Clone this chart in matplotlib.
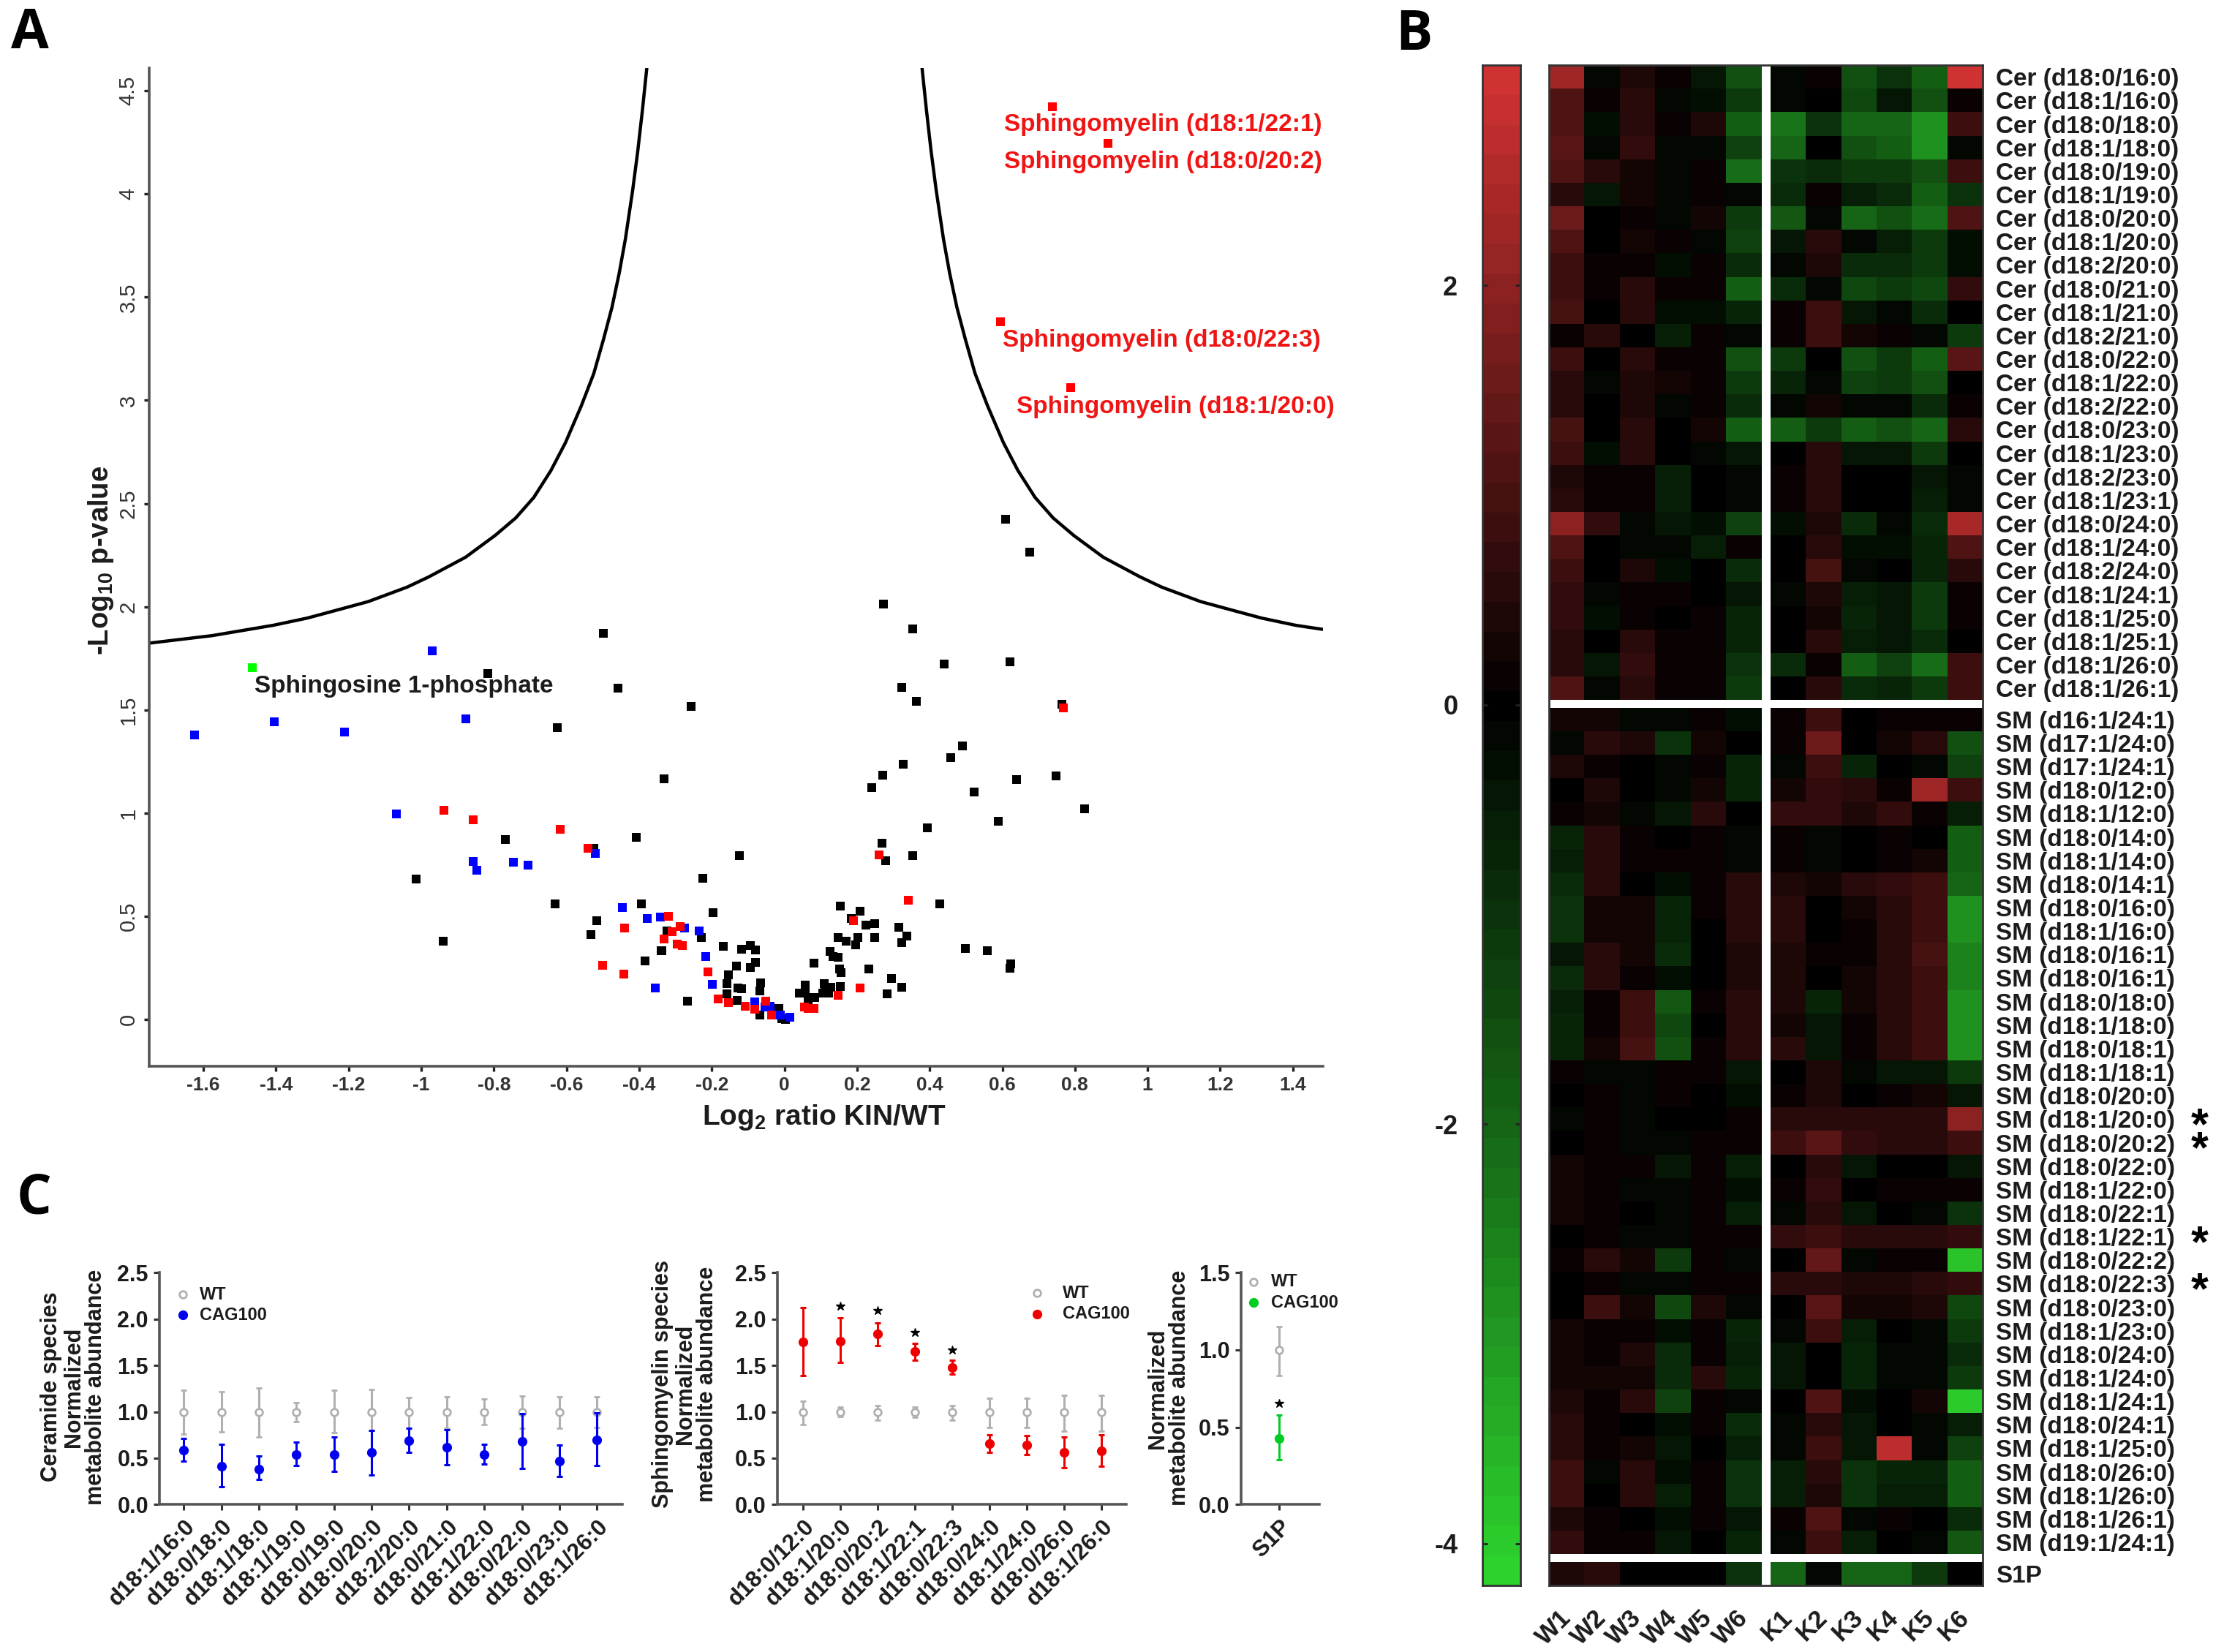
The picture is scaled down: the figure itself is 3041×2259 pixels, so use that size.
import numpy as np
import matplotlib
matplotlib.use("Agg")
import matplotlib.pyplot as plt
from matplotlib.colors import LinearSegmentedColormap, Normalize
from matplotlib.lines import Line2D
from matplotlib.transforms import ScaledTranslation

plt.rcParams['font.family'] = ['Liberation Sans', 'DejaVu Sans']
plt.rcParams['mathtext.fontset'] = 'custom'
plt.rcParams['mathtext.bf'] = 'Liberation Sans:bold'
plt.rcParams['mathtext.rm'] = 'Liberation Sans'

# ---- panel A, volcano
curve_left_x = [-1.747, -1.576, -1.408, -1.314, -1.240, -1.146, -1.039, -0.979, -0.878, -0.797, -0.740, -0.690, -0.643, -0.603, -0.559, -0.525, -0.498, -0.475, -0.455, -0.438, -0.418, -0.404, -0.391, -0.379]
curve_left_y = [1.824, 1.860, 1.910, 1.945, 1.980, 2.025, 2.095, 2.145, 2.240, 2.345, 2.430, 2.530, 2.660, 2.795, 2.975, 3.130, 3.297, 3.450, 3.616, 3.781, 4.017, 4.206, 4.407, 4.61]
curve_right_x = [0.379, 0.391, 0.404, 0.418, 0.438, 0.455, 0.475, 0.498, 0.525, 0.559, 0.603, 0.643, 0.690, 0.740, 0.797, 0.878, 0.979, 1.039, 1.146, 1.240, 1.314, 1.408, 1.484]
curve_right_y = [4.61, 4.407, 4.206, 4.017, 3.781, 3.616, 3.450, 3.297, 3.130, 2.975, 2.795, 2.660, 2.530, 2.430, 2.345, 2.240, 2.145, 2.095, 2.025, 1.980, 1.945, 1.910, 1.89]

black_x = [0.610, 0.675, 0.272, 0.354, 0.440, 0.621, 0.324, 0.364, 0.765, -0.256, 0.490, 0.458, 0.327, 0.270, 0.241, 0.640, 0.747, -0.332, 0.523, 0.827, 0.589, 0.394, 0.268, 0.279, 0.353, -0.125, -0.224, 0.428, -0.197, 0.154, 0.209, 0.185, 0.224, 0.249, 0.314, 0.337, 0.324, 0.249, 0.202, 0.196, 0.147, 0.169, 0.125, 0.134, 0.147, 0.082, 0.151, 0.155, 0.232, 0.295, 0.324, 0.283, 0.498, 0.558, 0.624, 0.621, 0.154, 0.057, 0.057, 0.042, 0.109, 0.112, 0.128, 0.105, 0.121, 0.083, 0.066, 0.066,
           -0.168, -0.119, -0.093, -0.080, -0.229, -0.337, -0.080, -0.094, -0.132, -0.155, -0.159, -0.129, -0.119, -0.159, -0.065, -0.067, -0.130, -0.267, -0.067, -0.016, -0.007, 0.002,
           -0.499, -0.816, -0.458, -0.625, -0.769, -0.524, -0.408, -1.015, -0.939, -0.631, -0.393, -0.517, -0.533, -0.324, -0.339, -0.384]
black_y = [2.423, 2.264, 2.014, 1.892, 1.724, 1.733, 1.610, 1.541, 1.527, 1.518, 1.326, 1.268, 1.237, 1.185, 1.125, 1.162, 1.181, 1.167, 1.104, 1.021, 0.961, 0.930, 0.856, 0.768, 0.793, 0.793, 0.683, 0.560, 0.516, 0.551, 0.525, 0.489, 0.459, 0.464, 0.448, 0.406, 0.372, 0.397, 0.399, 0.363, 0.399, 0.381, 0.330, 0.305, 0.303, 0.272, 0.245, 0.227, 0.245, 0.200, 0.155, 0.123, 0.345, 0.334, 0.269, 0.249, 0.160, 0.168, 0.146, 0.128, 0.173, 0.146, 0.155, 0.128, 0.128, 0.105, 0.105, 0.083,
           0.354, 0.341, 0.359, 0.336, 0.399, 0.332, 0.278, 0.251, 0.258, 0.218, 0.175, 0.152, 0.150, 0.124, 0.179, 0.137, 0.092, 0.089, 0.023, 0.052, 0.005, 0.002,
           1.872, 1.676, 1.605, 1.415, 0.871, 0.830, 0.883, 0.681, 0.381, 0.560, 0.560, 0.480, 0.410, 0.429, 0.334, 0.285]
blue_x = [-0.970, -1.625, -1.405, -1.211, -0.877, -1.069, -0.858, -0.848, -0.746, -0.707, -0.520, -0.446, -0.378, -0.342, -0.275, -0.235, -0.216, -0.198, -0.356, -0.081, -0.054, -0.039, -0.011, 0.015]
blue_y = [1.787, 1.380, 1.444, 1.394, 1.455, 0.996, 0.766, 0.724, 0.763, 0.748, 0.805, 0.541, 0.488, 0.497, 0.443, 0.429, 0.306, 0.172, 0.152, 0.087, 0.059, 0.065, 0.020, 0.012]
red_x = [0.768, 0.260, 0.342, 0.190, 0.209, 0.147, 0.056, 0.066, 0.082, -0.183, -0.155, -0.108, -0.081, -0.052, -0.035, -0.211, -0.320, -0.288, -0.310, -0.331, -0.295, -0.282, -0.441, -0.500, -0.443, -0.938, -0.857, -0.617, -0.540, 0.737, 0.891, 0.594, 0.789]
red_y = [1.510, 0.797, 0.578, 0.479, 0.151, 0.117, 0.061, 0.052, 0.052, 0.101, 0.083, 0.065, 0.050, 0.088, 0.023, 0.232, 0.500, 0.450, 0.426, 0.389, 0.367, 0.358, 0.443, 0.261, 0.221, 1.014, 0.968, 0.922, 0.830, 4.424, 4.245, 3.38, 3.063]
green_x = [-1.465]
green_y = [1.703]

a_xticks = [-1.6, -1.4, -1.2, -1, -0.8, -0.6, -0.4, -0.2, 0, 0.2, 0.4, 0.6, 0.8, 1, 1.2, 1.4]
a_yticks = [0, 0.5, 1, 1.5, 2, 2.5, 3, 3.5, 4, 4.5]

# ---- panel B, heat map
samples = ['W1', 'W2', 'W3', 'W4', 'W5', 'W6', 'K1', 'K2', 'K3', 'K4', 'K5', 'K6']
cer_labels = ['d18:0/16:0', 'd18:1/16:0', 'd18:0/18:0', 'd18:1/18:0', 'd18:0/19:0', 'd18:1/19:0', 'd18:0/20:0', 'd18:1/20:0', 'd18:2/20:0', 'd18:0/21:0', 'd18:1/21:0', 'd18:2/21:0', 'd18:0/22:0', 'd18:1/22:0', 'd18:2/22:0', 'd18:0/23:0', 'd18:1/23:0', 'd18:2/23:0', 'd18:1/23:1', 'd18:0/24:0', 'd18:1/24:0', 'd18:2/24:0', 'd18:1/24:1', 'd18:1/25:0', 'd18:1/25:1', 'd18:1/26:0', 'd18:1/26:1']
sm_labels = ['d16:1/24:1', 'd17:1/24:0', 'd17:1/24:1', 'd18:0/12:0', 'd18:1/12:0', 'd18:0/14:0', 'd18:1/14:0', 'd18:0/14:1', 'd18:0/16:0', 'd18:1/16:0', 'd18:0/16:1', 'd18:0/16:1', 'd18:0/18:0', 'd18:1/18:0', 'd18:0/18:1', 'd18:1/18:1', 'd18:0/20:0', 'd18:1/20:0', 'd18:0/20:2', 'd18:0/22:0', 'd18:1/22:0', 'd18:0/22:1', 'd18:1/22:1', 'd18:0/22:2', 'd18:0/22:3', 'd18:0/23:0', 'd18:1/23:0', 'd18:0/24:0', 'd18:1/24:0', 'd18:1/24:1', 'd18:0/24:1', 'd18:1/25:0', 'd18:0/26:0', 'd18:1/26:0', 'd18:1/26:1', 'd19:1/24:1']
sm_starred = ['d18:1/20:0', 'd18:0/20:2', 'd18:1/22:1', 'd18:0/22:3']

cer_values = [
    [2.2, -0.2, 0.4, 0.2, -0.4, -1.5, -0.2, 0.2, -1.6, -1.0, -1.9, 3.0],
    [1.2, 0.2, 0.5, -0.1, -0.3, -1.2, -0.2, 0.0, -1.4, -0.4, -1.5, 0.2],
    [1.1, -0.3, 0.6, 0.1, 0.4, -1.8, -2.3, -1.0, -2.0, -2.0, -2.8, 0.8],
    [1.3, -0.1, 0.7, -0.1, -0.1, -1.3, -2.0, 0.0, -1.6, -1.8, -2.8, -0.1],
    [1.2, 0.6, 0.3, -0.1, 0.2, -2.2, -1.0, -0.8, -1.1, -1.1, -1.5, 0.8],
    [0.6, -0.4, 0.3, -0.1, 0.1, -0.1, -0.8, 0.2, -0.6, -0.9, -1.9, -1.0],
    [1.6, 0.0, 0.2, -0.2, 0.3, -1.2, -1.7, -0.2, -2.0, -1.5, -2.1, 1.1],
    [1.2, 0.0, 0.3, 0.1, -0.1, -1.3, -0.4, 0.5, -0.2, -0.6, -1.2, -0.3],
    [0.9, 0.1, 0.2, -0.3, 0.1, -0.9, -0.1, 0.4, -0.8, -0.8, -1.1, -0.3],
    [0.9, 0.1, 0.5, 0.1, 0.2, -1.8, -0.8, -0.1, -1.4, -1.2, -1.4, 0.7],
    [1.0, 0.0, 0.5, -0.3, -0.3, -0.7, 0.2, 0.8, -0.4, -0.1, -0.8, 0.0],
    [0.1, 0.5, 0.0, -0.6, 0.1, -0.2, 0.2, 0.8, 0.3, 0.2, -0.1, -1.1],
    [0.9, 0.0, 0.5, 0.2, 0.1, -1.5, -1.2, 0.0, -1.6, -1.2, -1.9, 1.3],
    [0.5, -0.2, 0.4, 0.3, 0.1, -1.2, -0.7, -0.1, -1.3, -1.1, -1.5, 0.0],
    [0.5, 0.0, 0.4, -0.2, 0.1, -0.8, -0.2, 0.3, -0.2, -0.1, -0.9, 0.1],
    [1.0, 0.0, 0.5, 0.0, 0.3, -1.9, -1.8, -1.2, -1.8, -1.5, -2.0, 0.6],
    [0.8, -0.3, 0.6, 0.0, -0.1, -0.4, 0.0, 0.6, -0.4, -0.5, -1.1, 0.0],
    [0.4, 0.1, 0.2, -0.6, 0.0, -0.2, 0.2, 0.6, 0.0, 0.0, -0.5, -0.2],
    [0.5, 0.1, 0.2, -0.6, 0.0, -0.2, 0.2, 0.6, 0.0, 0.0, -0.6, -0.2],
    [2.0, 0.7, -0.1, -0.5, -0.3, -1.3, -0.3, 0.4, -0.8, -0.2, -0.9, 2.4],
    [1.2, 0.0, -0.1, -0.2, -0.6, 0.1, 0.0, 0.5, -0.3, -0.3, -0.7, 1.2],
    [0.9, 0.0, 0.4, -0.3, 0.0, -0.9, 0.0, 1.0, -0.2, 0.0, -0.7, 0.5],
    [0.7, -0.2, 0.2, 0.1, 0.0, -0.5, -0.1, 0.4, -0.6, -0.4, -1.1, 0.2],
    [0.7, -0.3, 0.2, 0.0, 0.1, -0.7, 0.0, 0.3, -0.7, -0.5, -1.2, 0.1],
    [0.5, 0.0, 0.5, 0.1, 0.1, -0.7, 0.0, 0.6, -0.6, -0.4, -0.9, 0.0],
    [0.5, -0.5, 0.7, 0.2, 0.2, -1.0, -0.9, 0.2, -1.9, -1.3, -2.1, 0.9],
    [1.1, -0.2, 0.6, 0.1, 0.1, -1.2, 0.0, 0.6, -0.9, -0.7, -1.2, 0.8],
]
sm_values = [
    [0.3, 0.3, -0.1, -0.1, 0.2, -0.3, 0.2, 0.8, 0.0, 0.2, 0.1, 0.1],
    [-0.1, 0.6, 0.4, -1.0, 0.3, 0.0, 0.1, 1.6, 0.0, 0.3, 0.5, -1.5],
    [0.4, 0.2, 0.0, -0.2, 0.2, -0.7, -0.2, 0.8, -0.7, 0.0, -0.1, -1.3],
    [0.0, 0.4, 0.0, -0.1, 0.3, -0.7, 0.3, 0.7, 0.6, 0.2, 2.2, 0.9],
    [0.1, 0.3, -0.2, -0.4, 0.5, 0.0, 0.7, 0.7, 0.4, 0.7, 0.2, -0.6],
    [-0.7, 0.5, 0.1, 0.0, 0.1, -0.1, 0.2, -0.2, 0.0, 0.2, 0.0, -1.9],
    [-0.6, 0.5, 0.2, 0.1, 0.2, -0.1, 0.2, -0.1, 0.0, 0.2, 0.3, -1.8],
    [-0.8, 0.5, 0.0, -0.3, 0.1, 0.5, 0.4, 0.3, 0.6, 0.7, 0.9, -2.0],
    [-1.0, 0.3, 0.3, -0.7, 0.1, 0.5, 0.5, 0.0, 0.3, 0.5, 0.9, -2.8],
    [-1.0, 0.3, 0.3, -0.7, 0.0, 0.5, 0.5, 0.0, 0.2, 0.5, 0.9, -2.8],
    [-0.5, 0.6, 0.3, -0.9, 0.0, 0.4, 0.4, 0.1, 0.1, 0.6, 1.0, -2.5],
    [-0.9, 0.5, 0.2, -0.3, 0.0, 0.4, 0.4, 0.0, 0.3, 0.5, 0.8, -2.5],
    [-0.6, 0.2, 0.9, -1.7, 0.1, 0.5, 0.4, -0.7, 0.3, 0.5, 0.8, -2.8],
    [-0.7, 0.2, 0.9, -1.4, 0.0, 0.5, 0.3, -0.5, 0.2, 0.5, 0.8, -2.8],
    [-0.7, 0.3, 1.0, -1.5, 0.2, 0.5, 0.5, -0.5, 0.2, 0.5, 0.9, -2.8],
    [0.2, -0.1, -0.1, 0.1, 0.2, -0.4, 0.0, 0.4, -0.1, -0.5, -0.4, -1.2],
    [0.0, 0.1, -0.1, 0.1, 0.0, -0.3, 0.2, 0.4, 0.0, 0.1, 0.3, -0.4],
    [-0.1, 0.1, -0.1, 0.0, 0.0, 0.1, 0.6, 0.6, 0.6, 0.5, 0.5, 2.0],
    [0.0, 0.1, -0.2, -0.2, 0.1, 0.2, 0.9, 1.3, 0.7, 0.6, 0.5, 0.8],
    [0.3, 0.2, 0.1, -0.5, 0.2, -0.6, 0.0, 0.5, -0.4, 0.0, 0.0, -0.4],
    [0.3, 0.2, -0.1, -0.2, 0.2, -0.3, 0.1, 0.7, 0.0, 0.1, 0.1, 0.1],
    [0.3, 0.2, 0.0, -0.2, 0.2, -0.6, -0.1, 0.6, -0.4, 0.0, -0.1, -1.0],
    [0.0, 0.1, -0.2, -0.1, 0.1, 0.1, 0.7, 0.8, 0.5, 0.5, 0.5, 0.7],
    [0.2, 0.5, 0.3, -1.1, 0.1, -0.2, 0.0, 1.4, -0.2, 0.1, 0.2, -3.9],
    [0.0, 0.1, -0.2, -0.1, 0.2, 0.1, 0.6, 0.5, 0.4, 0.4, 0.5, 0.7],
    [0.0, 0.9, 0.3, -1.4, 0.4, -0.2, 0.0, 1.3, 0.3, 0.3, 0.4, -1.4],
    [0.3, 0.2, 0.2, -0.3, 0.2, -0.7, -0.1, 0.9, -0.6, 0.0, -0.1, -1.1],
    [0.3, 0.2, 0.4, -0.8, 0.2, -0.6, -0.4, 0.0, -0.7, -0.2, -0.1, -0.9],
    [0.3, 0.3, 0.3, -0.8, 0.5, -0.7, -0.4, 0.0, -0.7, -0.2, -0.1, -1.2],
    [0.4, 0.2, 0.6, -1.3, 0.1, -0.2, 0.0, 1.2, -0.3, 0.0, 0.3, -4.0],
    [0.6, 0.2, 0.0, -0.3, 0.1, -0.8, -0.2, 0.6, -0.5, 0.0, -0.2, -0.6],
    [0.6, 0.1, 0.3, -0.4, 0.0, -0.6, -0.2, 0.9, -0.5, 2.7, -0.1, -1.3],
    [0.8, -0.1, 0.5, -0.3, 0.1, -1.0, -0.6, 0.5, -1.0, -0.7, -0.7, -1.9],
    [0.8, 0.0, 0.6, -0.6, 0.2, -1.0, -0.6, 0.4, -1.0, -0.6, -0.6, -1.9],
    [0.4, 0.2, 0.0, -0.3, 0.1, -0.4, 0.2, 1.1, -0.2, 0.2, 0.0, -0.8],
    [0.7, 0.2, 0.2, -0.4, 0.0, -0.7, -0.2, 0.9, -0.6, 0.0, -0.2, -1.7],
]
s1p_values = [[0.4, 0.6, 0.0, 0.0, 0.0, -1.0, -2.0, -0.2, -2.0, -2.0, -1.2, 0.0]]
bar_ticks = [2, 0, -2, -4]

# ---- panel C, dot plots
cer_x = ['d18:1/16:0', 'd18:0/18:0', 'd18:1/18:0', 'd18:1/19:0', 'd18:0/19:0', 'd18:0/20:0', 'd18:2/20:0', 'd18:0/21:0', 'd18:1/22:0', 'd18:0/22:0', 'd18:0/23:0', 'd18:1/26:0']
cer_wt_top = [1.23, 1.215, 1.26, 1.10, 1.23, 1.24, 1.155, 1.165, 1.14, 1.17, 1.165, 1.165]
cer_wt_low = [0.76, 0.78, 0.73, 0.89, 0.775, 0.80, 0.82, 0.82, 0.86, 0.82, 0.825, 0.83]
cer_mut = [0.585, 0.41, 0.385, 0.54, 0.535, 0.56, 0.69, 0.615, 0.54, 0.68, 0.465, 0.70]
cer_mut_top = [0.71, 0.65, 0.52, 0.67, 0.725, 0.80, 0.825, 0.81, 0.65, 0.98, 0.64, 0.99]
cer_mut_low = [0.465, 0.19, 0.27, 0.42, 0.36, 0.32, 0.56, 0.43, 0.435, 0.39, 0.30, 0.42]

sm_x = ['d18:0/12:0', 'd18:1/20:0', 'd18:0/20:2', 'd18:1/22:1', 'd18:0/22:3', 'd18:0/24:0', 'd18:1/24:0', 'd18:0/26:0', 'd18:1/26:0']
sm_wt_top = [1.117, 1.05, 1.065, 1.05, 1.065, 1.15, 1.145, 1.18, 1.18]
sm_wt_low = [0.86, 0.95, 0.91, 0.94, 0.91, 0.83, 0.83, 0.795, 0.795]
sm_mut = [1.75, 1.76, 1.84, 1.65, 1.48, 0.655, 0.64, 0.565, 0.58]
sm_mut_top = [2.12, 2.01, 1.96, 1.74, 1.56, 0.755, 0.74, 0.73, 0.75]
sm_mut_low = [1.39, 1.53, 1.71, 1.56, 1.41, 0.565, 0.535, 0.40, 0.41]
sm_star_idx = [1, 2, 3, 4]
sm_star_y = [2.14, 2.09, 1.856, 1.67]

s1p_x = ['S1P']
s1p_wt_top = [1.153]
s1p_wt_low = [0.832]
s1p_mut = [0.428]
s1p_mut_top = [0.577]
s1p_mut_low = [0.29]
s1p_star_y = [0.655]

SX, SY = 3041 / 1568, 2259 / 1165
AXC = '#555555'
TXT = '#1c1c1c'
GRAY = '#b0b0b0'

fig = plt.figure(figsize=(30.41, 22.59), dpi=100)


def box(l, t, r, b):
    # rectangle given in px of the 1568x1165 view
    return fig.add_axes([l / 1568, 1 - b / 1165, (r - l) / 1568, (b - t) / 1165])


def ftext(x, y, s, **kw):
    return fig.text(x / 1568, 1 - y / 1165, s, **kw)


def key(x, y, **kw):
    fig.add_artist(Line2D([x / 1568], [1 - y / 1165], transform=fig.transFigure, ls='none', **kw))


def panel(ax):
    for s in ['top', 'right']:
        ax.spines[s].set_visible(False)
    for s in ['left', 'bottom']:
        ax.spines[s].set_linewidth(2.6)
        ax.spines[s].set_color(AXC)
    ax.patch.set_alpha(0)


# panel A
ax = box(105, 48, 933, 752)
panel(ax)
ax.plot(curve_left_x, curve_left_y, color='black', lw=3.2, solid_joinstyle='round')
ax.plot(curve_right_x, curve_right_y, color='black', lw=3.2, solid_joinstyle='round')
ax.scatter(black_x, black_y, marker='s', s=74, color='black', lw=0, zorder=3)
ax.scatter(blue_x, blue_y, marker='s', s=74, color='#0000ff', lw=0, zorder=4)
ax.scatter(red_x, red_y, marker='s', s=74, color='#ff0000', lw=0, zorder=5)
ax.scatter(green_x, green_y, marker='s', s=74, color='#00ff00', lw=0, zorder=5)
ax.set_xlim(-1.75, 1.484)
ax.set_ylim(-0.227, 4.61)
ax.set_xticks(a_xticks, [f'{t:g}' for t in a_xticks], fontsize=19, fontweight='bold', color='#333333')
ax.set_yticks(a_yticks, [f'{t:g}' for t in a_yticks], fontsize=21, rotation=90, va='center', color='#333333')
ax.tick_params(axis='both', length=5, width=2.4, color='#222222', pad=5)
ftext(581, 788, 'Log$_{\\mathbf{2}}$ ratio KIN/WT', fontsize=28, fontweight='bold', ha='center', va='center', color=TXT)
ftext(71, 395, '-Log$_{\\mathbf{10}}$ p-value', fontsize=27.5, fontweight='bold', ha='center', va='center', rotation=90, color=TXT)
ftext(285, 484, 'Sphingosine 1-phosphate', fontsize=24, fontweight='bold', ha='center', va='center', color=TXT)
ftext(708, 88, 'Sphingomyelin (d18:1/22:1)', fontsize=24, fontweight='bold', va='center', color='#f01515')
ftext(708, 114, 'Sphingomyelin (d18:0/20:2)', fontsize=24, fontweight='bold', va='center', color='#f01515')
ftext(707, 240, 'Sphingomyelin (d18:0/22:3)', fontsize=24, fontweight='bold', va='center', color='#f01515')
ftext(716.5, 287, 'Sphingomyelin (d18:1/20:0)', fontsize=24, fontweight='bold', va='center', color='#f01515')

# panel B
cmap = LinearSegmentedColormap.from_list(
    'gbr',
    [(0, (45 / 255, 210 / 255, 45 / 255)), (4.2 / 7.25, (0, 0, 0)), (1, (208 / 255, 50 / 255, 50 / 255))],
    N=51)
norm = Normalize(-4.2, 3.05)

n_cer, n_sm = len(cer_labels), len(sm_labels)
row_gap, col_gap = 0.33, 0.25
x_edges = [np.arange(7.0), np.arange(7.0) + 6 + col_gap]
y_edges = [np.arange(n_cer + 1.0),
           np.arange(n_sm + 1.0) + n_cer + row_gap,
           np.arange(2.0) + n_cer + n_sm + 2 * row_gap]
blocks = [np.array(cer_values), np.array(sm_values), np.array(s1p_values)]

hm = box(1092, 46, 1398, 1118)
for ye, block in zip(y_edges, blocks):
    hm.pcolormesh(x_edges[0], ye, block[:, :6], cmap=cmap, norm=norm)
    hm.pcolormesh(x_edges[1], ye, block[:, 6:], cmap=cmap, norm=norm)
hm.set_xlim(0, 12 + col_gap)
hm.set_ylim(n_cer + n_sm + 1 + 2 * row_gap, 0)
for s in hm.spines.values():
    s.set_linewidth(2)
    s.set_color('#333333')
y_centres = np.concatenate([ye[:-1] + 0.5 for ye in y_edges])
row_names = ['Cer (%s)' % c for c in cer_labels] + ['SM (%s)' % c for c in sm_labels] + ['S1P']
hm.yaxis.tick_right()
hm.set_yticks(y_centres, row_names, fontsize=24, color=TXT, fontweight='bold')
x_centres = np.concatenate([xe[:-1] + 0.5 for xe in x_edges])
hm.set_xticks(x_centres, samples, fontsize=25, rotation=45, ha='right', rotation_mode='anchor', color=TXT, fontweight='bold')
hm.tick_params(axis='y', length=0, pad=13)
hm.tick_params(axis='x', length=0, pad=20)
for lab in hm.get_xticklabels():
    lab.set_transform(lab.get_transform() + ScaledTranslation(-8 / 72, 0, fig.dpi_scale_trans))
for name, yc in zip(sm_labels, y_edges[1][:-1] + 0.5):
    if name in sm_starred:
        hm.annotate('*', (1, yc), xycoords=('axes fraction', 'data'), xytext=(153 * SX * 0.72, -8),
                    textcoords='offset points', ha='center', va='center', fontsize=44, color='black', fontweight='bold')

cb = box(1045, 46, 1072, 1118)
bar_edges = np.linspace(-4.2, 3.05, 52)
cb.pcolormesh([0, 1], bar_edges, (bar_edges[:-1] + np.diff(bar_edges) / 2).reshape(-1, 1), cmap=cmap, norm=norm)
cb.set_xticks([])
cb.set_yticks(bar_ticks, [f'{t:d}' for t in bar_ticks], fontsize=26, fontweight='bold', color=TXT)
cb.tick_params(axis='y', length=5, width=2, direction='in', left=True, right=True, pad=24, color='#222222')
for s in cb.spines.values():
    s.set_linewidth(2)
    s.set_color('#333333')


# panel C
def dots(ax, labels, wt_top, wt_low, mut, mut_top, mut_low, colour, ymax, ticks):
    panel(ax)
    xs = np.arange(len(labels))
    wt = np.ones(len(labels))
    ax.errorbar(xs, wt, yerr=[wt - np.array(wt_low), np.array(wt_top) - wt], fmt='o', mfc='white', mec=GRAY, mew=2,
                ms=7, ecolor=GRAY, elinewidth=2.2, capsize=3, capthick=2.2, zorder=3)
    m = np.array(mut)
    ax.errorbar(xs, m, yerr=[m - np.array(mut_low), np.array(mut_top) - m], fmt='o', color=colour, ms=8.5,
                elinewidth=2.2, capsize=3, capthick=2.2, zorder=4)
    ax.set_ylim(0, ymax)
    ax.set_xticks(xs, labels, fontsize=22.5, fontweight='bold', rotation=45, ha='right', rotation_mode='anchor', color=TXT)
    ax.set_yticks(ticks, [f'{t:.1f}' for t in ticks], fontsize=22, fontweight='bold', color=TXT)
    ax.tick_params(axis='both', length=6, width=2.2, color='#333333', pad=5)


c1 = box(112.5, 897.5, 439, 1061)
dots(c1, cer_x, cer_wt_top, cer_wt_low, cer_mut, cer_mut_top, cer_mut_low, '#0000ee', 2.5, [0, 0.5, 1, 1.5, 2, 2.5])
c1.set_xlim(-0.646, 11.685)

c2 = box(548, 897.5, 794, 1061)
dots(c2, sm_x, sm_wt_top, sm_wt_low, sm_mut, sm_mut_top, sm_mut_low, '#ee0000', 2.5, [0, 0.5, 1, 1.5, 2, 2.5])
c2.set_xlim(-0.693, 8.664)
c2.plot(sm_star_idx, sm_star_y, ls='none', marker='*', ms=9, color='black', zorder=5)

c3 = box(875, 897.5, 930, 1061)
dots(c3, s1p_x, s1p_wt_top, s1p_wt_low, s1p_mut, s1p_mut_top, s1p_mut_low, '#00cc22', 1.5, [0, 0.5, 1, 1.5])
c3.set_xlim(-0.49, 0.51)
c3.plot([0], s1p_star_y, ls='none', marker='*', ms=9, color='black', zorder=5)

ftext(52, 978, 'Ceramide species\nNormalized\nmetabolite abundance', fontsize=22, fontweight='bold', rotation=90,
      ha='center', va='center', linespacing=1.02, color=TXT, multialignment='center')
ftext(483, 976, 'Sphingomyelin species\nNormalized\nmetabolite abundance', fontsize=22, fontweight='bold', rotation=90,
      ha='center', va='center', linespacing=1.02, color=TXT, multialignment='center')
ftext(824, 979, 'Normalized\nmetabolite abundance', fontsize=22, fontweight='bold', rotation=90,
      ha='center', va='center', linespacing=1.02, color=TXT, multialignment='center')

for kx, tx, ky, colour in [(129, 141, 913, '#0000ee'), (731, 749, 912, '#ee0000'), (884, 896, 904, '#00cc22')]:
    key(kx, ky, marker='o', mfc='white', mec=GRAY, mew=2, ms=7)
    key(kx, ky + 14.5, marker='o', color=colour, ms=8.5)
    ftext(tx, ky, 'WT', fontsize=17, fontweight='bold', va='center', color=TXT)
    ftext(tx, ky + 14.5, 'CAG100', fontsize=17, fontweight='bold', va='center', color=TXT)

# panel letters
ftext(21, 34, 'A', fontsize=54, fontweight='bold', family=['Open Sans', 'DejaVu Sans'], ha='center', va='baseline')
ftext(997, 35, 'B', fontsize=54, fontweight='bold', family=['Open Sans', 'DejaVu Sans'], ha='center', va='baseline')
ftext(24, 856, 'C', fontsize=54, fontweight='bold', family=['Open Sans', 'DejaVu Sans'], ha='center', va='baseline')

fig.savefig('out.png', dpi=100)
